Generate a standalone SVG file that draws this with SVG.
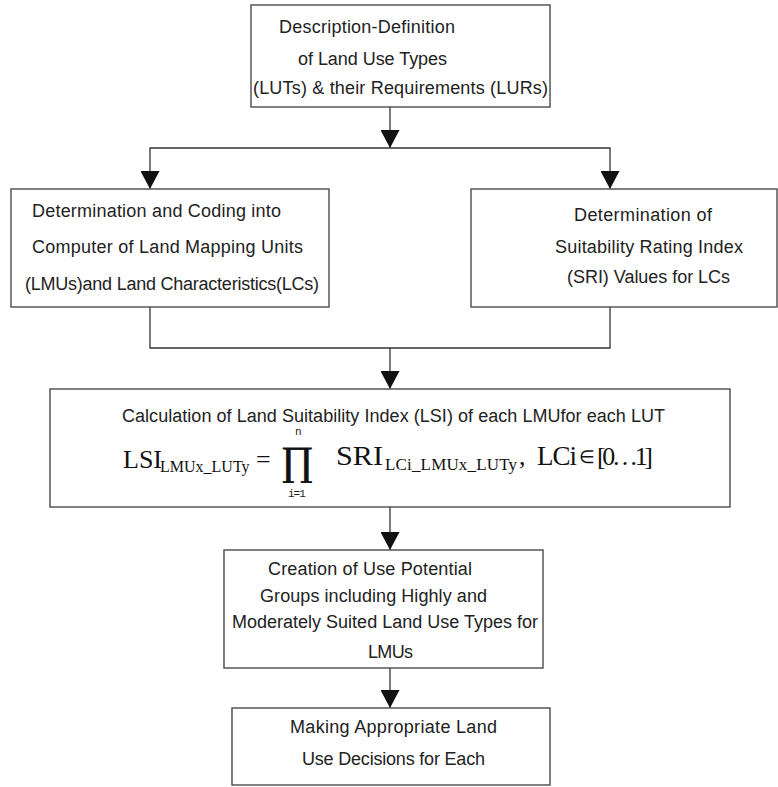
<svg xmlns="http://www.w3.org/2000/svg" width="778" height="787" viewBox="0 0 778 787">
<style>
.box{fill:#fff;stroke:#4a4a4a;stroke-width:1.4}
.t{font-family:"Liberation Sans",Arial,sans-serif;font-size:18px;fill:#222}
.m{font-family:"Liberation Serif","Times New Roman",serif;fill:#111}
.mono{font-family:"Liberation Mono","Courier New",monospace;font-size:11px;fill:#222}
.c{fill:none;stroke:#333;stroke-width:1.3}
</style>
<defs>
<marker id="ah" viewBox="0 0 18 19" refX="18" refY="9.5" markerWidth="18" markerHeight="19" markerUnits="userSpaceOnUse" orient="auto">
<path d="M0,0 L18,9.5 L0,19 z" fill="#111"/>
</marker>
</defs>
<rect width="778" height="787" fill="#fff"/>
<g id="connectors">
<path class="c" d="M390,107 V148" marker-end="url(#ah)"/>
<path class="c" d="M390,148 H150 V189" marker-end="url(#ah)"/>
<path class="c" d="M390,148 H610 V189" marker-end="url(#ah)"/>
<path class="c" d="M150,307 V348 H610 V307"/>
<path class="c" d="M390,348 V389" marker-end="url(#ah)"/>
<path class="c" d="M390,507 V550" marker-end="url(#ah)"/>
<path class="c" d="M390,668 V708" marker-end="url(#ah)"/>
</g>
<g id="node-lut">
<rect class="box" x="251" y="5" width="299" height="102"/>
<text class="t" x="279" y="33" textLength="176">Description-Definition</text>
<text class="t" x="298" y="65" textLength="149">of Land Use Types</text>
<text class="t" x="253" y="94" textLength="295">(LUTs) &amp; their Requirements (LURs)</text>
</g>
<g id="node-lmu">
<rect class="box" x="11" y="189" width="318" height="118"/>
<text class="t" x="32" y="217" textLength="249">Determination and Coding into</text>
<text class="t" x="32" y="253" textLength="271">Computer of Land Mapping Units</text>
<text class="t" x="25" y="290" textLength="294">(LMUs)and Land Characteristics(LCs)</text>
</g>
<g id="node-sri">
<rect class="box" x="471" y="189" width="306" height="118"/>
<text class="t" x="574" y="221" textLength="138">Determination of</text>
<text class="t" x="555" y="253" textLength="188">Suitability Rating Index</text>
<text class="t" x="567" y="283" textLength="163">(SRI) Values for LCs</text>
</g>
<g id="node-lsi">
<rect class="box" x="50" y="389" width="680" height="118"/>
<text class="t" x="122" y="422" textLength="543">Calculation of Land Suitability Index (LSI) of each LMUfor each LUT</text>
<text class="m" x="123" y="468" font-size="26">LSI</text>
<text class="m" x="160" y="472" font-size="16">LMUx_LUTy</text>
<text class="m" x="256" y="468" font-size="26">=</text>
<text class="m" x="281" y="474" font-size="40" stroke="#111" stroke-width="0.7">∏</text>
<text class="mono" x="295" y="435">n</text>
<text class="mono" x="288" y="497" letter-spacing="-1">i=1</text>
<text class="m" x="336" y="465" font-size="28" textLength="47" lengthAdjust="spacingAndGlyphs">SRI</text>
<text class="m" x="385" y="470" font-size="17" textLength="132">LCi_LMUx_LUTy</text>
<text class="m" x="519" y="465" font-size="26">,</text>
<text class="m" x="537" y="465" font-size="27" textLength="40">LCi</text>
<text class="m" x="579" y="463" font-size="18">∈</text>
<text class="m" x="597" y="465" font-size="26" textLength="56">[0…1]</text>
</g>
<g id="node-groups">
<rect class="box" x="224" y="550" width="319" height="118"/>
<text class="t" x="268" y="575" textLength="204">Creation of Use Potential</text>
<text class="t" x="260" y="602" textLength="227">Groups including Highly and</text>
<text class="t" x="232" y="628" textLength="306">Moderately Suited Land Use Types for</text>
<text class="t" x="368" y="658" textLength="45">LMUs</text>
</g>
<g id="node-decision">
<rect class="box" x="232" y="708" width="318" height="77"/>
<text class="t" x="290" y="733" textLength="207">Making Appropriate Land</text>
<text class="t" x="302" y="765" textLength="183">Use Decisions for Each</text>
</g>
</svg>
